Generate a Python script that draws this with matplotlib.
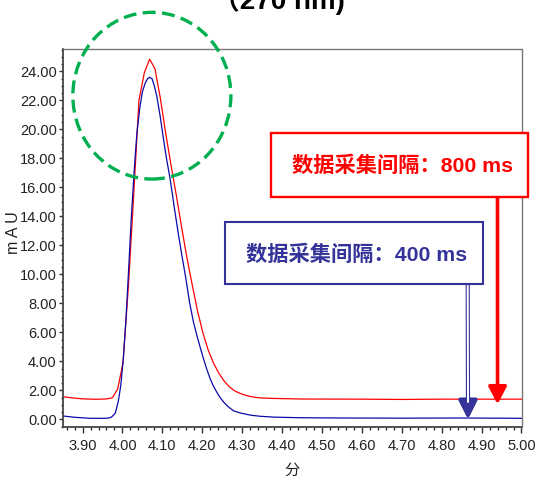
import matplotlib
matplotlib.use("Agg")
import matplotlib.pyplot as plt
from matplotlib.patches import Rectangle, Ellipse
from matplotlib.ticker import MultipleLocator, FormatStrFormatter

# 800 ms sampling (red)
t_red = [3.851, 3.87, 3.90, 3.935, 3.9613, 3.9747, 3.988, 4.0013, 4.0147, 4.028,
         4.0413, 4.0547, 4.068, 4.0813, 4.0947, 4.108, 4.1213, 4.1347, 4.148, 4.1613,
         4.1747, 4.188, 4.2013, 4.2147, 4.228, 4.2413, 4.2547, 4.268, 4.2813, 4.2947,
         4.308, 4.3213, 4.3347, 4.348, 4.38, 4.45, 4.60, 4.70, 4.80, 5.00]
v_red = [1.57, 1.50, 1.42, 1.39, 1.42, 1.50, 2.10, 3.90, 9.10, 15.4,
         22.0, 23.9, 24.85, 24.2, 22.2, 19.8, 17.6, 15.5, 13.3, 11.2,
         9.3, 7.5, 6.0, 4.8, 3.9, 3.2, 2.65, 2.25, 1.97, 1.80,
         1.67, 1.58, 1.52, 1.48, 1.45, 1.41, 1.40, 1.38, 1.40, 1.40]

# 400 ms sampling (blue)
t_blue = [3.851, 3.88, 3.92, 3.96, 3.972, 3.982, 3.990, 3.996, 4.0025, 4.009,
          4.015, 4.022, 4.029, 4.036, 4.044, 4.050, 4.057, 4.063, 4.068, 4.074,
          4.080, 4.086, 4.094, 4.103, 4.111, 4.120, 4.130, 4.140, 4.149, 4.159,
          4.168, 4.178, 4.187, 4.195, 4.2035, 4.2115, 4.220, 4.228, 4.237, 4.245,
          4.255, 4.265, 4.278, 4.295, 4.320, 4.345, 4.380, 4.445, 4.55, 4.70,
          4.85, 5.00]
v_blue = [0.24, 0.15, 0.08, 0.08, 0.15, 0.43, 1.30, 2.40, 4.30, 7.00,
          10.1, 13.8, 17.0, 19.7, 21.6, 22.6, 23.2, 23.5, 23.6, 23.5,
          23.0, 22.3, 21.0, 19.3, 17.9, 16.5, 14.6, 12.8, 11.3, 9.7,
          8.1, 6.7, 5.75, 4.95, 4.15, 3.45, 2.80, 2.30, 1.85, 1.50,
          1.15, 0.88, 0.60, 0.45, 0.30, 0.22, 0.16, 0.12, 0.10, 0.09,
          0.10, 0.08]

label_red = "数据采集间隔：800 ms"
label_blue = "数据采集间隔：400 ms"
arrow_red_x = 4.940
arrow_blue_x = 4.866

W, H = 538, 480
fig = plt.figure(figsize=(W / 100, H / 100), dpi=100)
ax = fig.add_axes([63 / W, 1 - 427 / H, (521.5 - 63) / W, (427 - 49) / H])

tick_font = "Liberation Sans"

ax.plot(t_red, v_red, color="#ff0000", lw=0.9)
ax.plot(t_blue, v_blue, color="#0a0aa8", lw=0.9)

ax.set_xlim(3.851, 5.0)
ax.set_ylim(-0.52, 25.55)
ax.xaxis.set_major_locator(MultipleLocator(0.1))
ax.xaxis.set_minor_locator(MultipleLocator(0.02))
ax.yaxis.set_major_locator(MultipleLocator(2))
ax.yaxis.set_minor_locator(MultipleLocator(0.5))
ax.xaxis.set_major_formatter(FormatStrFormatter("%.2f"))
ax.yaxis.set_major_formatter(FormatStrFormatter("%.2f"))
ax.tick_params(axis="x", which="major", direction="out", length=4.5, width=1, color="#333333", pad=4)
ax.tick_params(axis="x", which="minor", direction="out", length=2.5, width=1, color="#333333")
ax.tick_params(axis="y", which="major", direction="out", length=3, width=1, color="#333333", pad=1.5)
ax.tick_params(axis="y", which="minor", direction="out", length=1.8, width=1, color="#333333")
for lab in ax.get_xticklabels() + ax.get_yticklabels():
    lab.set_fontsize(10.5)
    lab.set_color("#222222")
    lab.set_family(tick_font)

for s in ["left", "bottom"]:
    ax.spines[s].set_linewidth(1.3)
    ax.spines[s].set_color("#444444")
for s in ["top", "right"]:
    ax.spines[s].set_linewidth(1.0)
    ax.spines[s].set_color("#777777")

fig.text(14 / W, 1 - 233 / H, "m A U", rotation=90, ha="center", va="center",
         fontsize=11.5, color="#222222", family=tick_font)
fig.text(292 / W, 1 - 470 / H, "分", ha="center", va="center", fontsize=11,
         family=["Noto Sans CJK SC", "DejaVu Sans"], color="#222222")

# title, cut off at the top
fig.text(278 / W, 1 - 9 / H, "（270 nm)", ha="center", va="baseline", fontsize=20,
         fontweight="bold", family=["Liberation Sans", "Noto Sans CJK SC"])

# green dashed circle round the peak
ax.add_patch(Ellipse((4.0737, 22.33), 0.396, 11.5, fill=False, ec="#00b050", lw=2.4,
                     ls=(0, (3.9, 1.9)), clip_on=False, zorder=5))

# boxes
fig.add_artist(Rectangle((270.7 / W, 1 - 197.3 / H), (528.3 - 270.7) / W, (197.3 - 133.3) / H,
                         transform=fig.transFigure, fc="white", ec="#ff0000", lw=1.7))
fig.text(402 / W, 1 - 166 / H, label_red, ha="center", va="center", fontsize=15.3,
         fontweight="bold", color="#ff0000", family=["Liberation Sans", "Noto Sans CJK SC"])
fig.add_artist(Rectangle((225 / W, 1 - 284 / H), (483.3 - 225) / W, (284 - 222.3) / H,
                         transform=fig.transFigure, fc="white", ec="#333399", lw=1.5))
fig.text(357 / W, 1 - 254.5 / H, label_blue, ha="center", va="center", fontsize=15.3,
         fontweight="bold", color="#333399", family=["Liberation Sans", "Noto Sans CJK SC"])

# arrows
ax.annotate("", xy=(arrow_red_x, 1.05), xycoords="data",
            xytext=(497.5 / W, 1 - 197.3 / H), textcoords="figure fraction",
            arrowprops=dict(arrowstyle="-|>,head_length=1.05,head_width=0.55", color="#ff0000",
                            lw=2.6, shrinkA=0, shrinkB=0, mutation_scale=10))
ax.annotate("", xy=(arrow_blue_x, 0.0), xycoords="data",
            xytext=(467.7 / W, 1 - 284 / H), textcoords="figure fraction",
            arrowprops=dict(arrowstyle="-|>,head_length=1.1,head_width=0.55", color="#333399",
                            lw=3.0, shrinkA=0, shrinkB=0, mutation_scale=10))
ax.annotate("", xy=(arrow_blue_x, 1.2), xycoords="data",
            xytext=(467.7 / W, 1 - 285.5 / H), textcoords="figure fraction",
            arrowprops=dict(arrowstyle="-", color="white", lw=1.4, shrinkA=0, shrinkB=0))

fig.savefig("out.png", dpi=100)
